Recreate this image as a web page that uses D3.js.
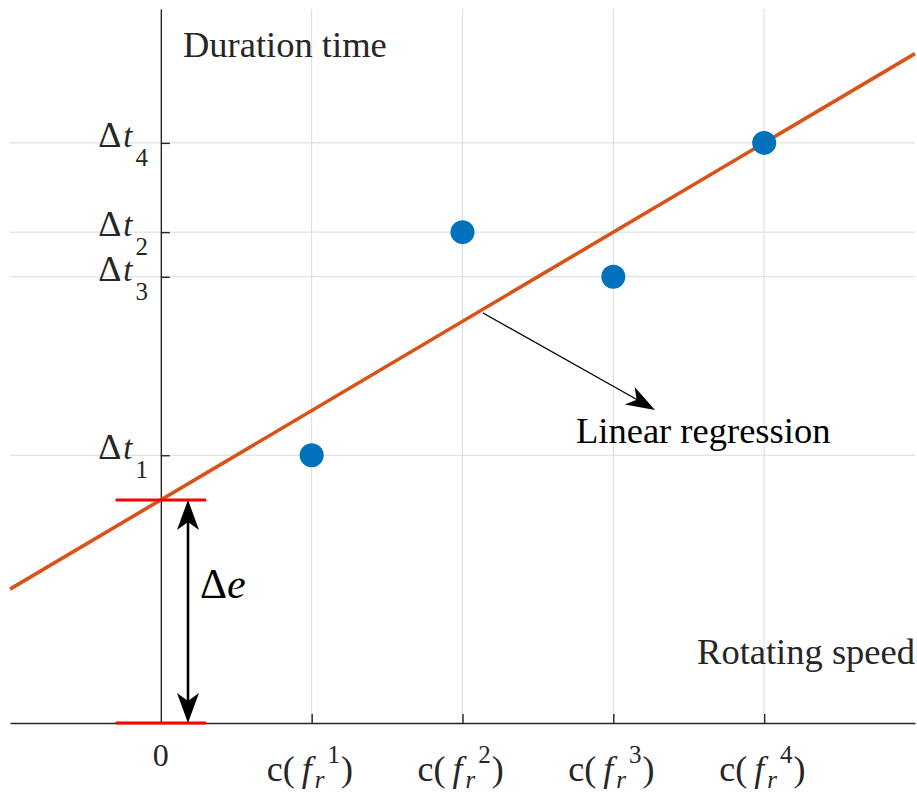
<!DOCTYPE html>
<html><head><meta charset="utf-8">
<script src="https://cdn.jsdelivr.net/npm/d3@7"></script>
<style>html,body{margin:0;padding:0;background:#fff;}svg{display:block;}text{font-family:"Liberation Serif","Times New Roman",serif;}</style>
</head><body>
<svg id="chart" width="917" height="796"></svg>
<script>
// ---- data ----
const speedIndex = [1, 2, 3, 4];              // c(f_r^n) positions
const durationValues = [3, 5.5, 5, 6.5];      // Δt_n
const xTickSup = ["1", "2", "3", "4"];
const yTickSub = ["1", "2", "3", "4"];
const xDomain = [-1, 5];
const yDomain = [0, 8];

(function () {
// least-squares regression of the points
const mx = d3.mean(speedIndex), my = d3.mean(durationValues);
const slope = d3.sum(speedIndex, (v, i) => (v - mx) * (durationValues[i] - my)) /
              d3.sum(speedIndex, v => (v - mx) * (v - mx));
const intercept = my - slope * mx;

const svg = d3.select("#chart");
const x = d3.scaleLinear().domain(xDomain).range([10, 915]);
const y = d3.scaleLinear().domain(yDomain).range([723, 9]);
const ink = "#262626";

// grid
svg.append("g").selectAll("line").data(speedIndex).join("line")
  .attr("x1", d => x(d)).attr("x2", d => x(d)).attr("y1", y(8)).attr("y2", y(0))
  .attr("stroke", "#dbdbdb").attr("stroke-width", 1);
svg.append("g").selectAll("line").data(durationValues).join("line")
  .attr("x1", x(-1)).attr("x2", x(5)).attr("y1", d => y(d)).attr("y2", d => y(d))
  .attr("stroke", "#dbdbdb").attr("stroke-width", 1);

// axes through origin
const xAxis = d3.axisBottom(x).tickValues(speedIndex).tickSize(-9).tickFormat("").tickSizeOuter(0);
const gx = svg.append("g").attr("transform", `translate(0,${y(0)})`).call(xAxis);
const yAxis = d3.axisRight(y).tickValues(durationValues).tickSize(9).tickFormat("").tickSizeOuter(0);
const gy = svg.append("g").attr("transform", `translate(${x(0)},0)`).call(yAxis);
[gx, gy].forEach(g => {
  g.select(".domain").attr("stroke", ink).attr("stroke-width", 1.4);
  g.selectAll(".tick line").attr("stroke", ink).attr("stroke-width", 1.4);
});

// x tick labels
svg.append("text").attr("x", x(0)).attr("y", 766).attr("text-anchor", "middle")
  .attr("font-size", 32).attr("fill", ink).text("0");
speedIndex.forEach((v, i) => {
  const t = svg.append("text").attr("x", x(v) - 45).attr("y", 781)
    .attr("font-size", 36).attr("fill", ink);
  t.append("tspan").text("c(");
  t.append("tspan").attr("dx", 7).attr("font-style", "italic").text("f");
  t.append("tspan").attr("dx", 3).attr("dy", 7).attr("font-size", 25).attr("font-style", "italic").text("r");
  t.append("tspan").attr("dx", 3).attr("dy", -25).attr("font-size", 25).text(xTickSup[i]);
  t.append("tspan").attr("dx", 1).attr("dy", 18).text(")");
});

// y tick labels
durationValues.forEach((v, i) => {
  const t = svg.append("text").attr("x", 148).attr("y", y(v) + 4).attr("text-anchor", "end")
    .attr("font-size", 33).attr("fill", ink);
  t.append("tspan").attr("font-size", 36).text("Δ");
  t.append("tspan").attr("dx", 2).attr("font-style", "italic").text("t");
  t.append("tspan").attr("dx", 3).attr("dy", 19).attr("font-size", 25).text(yTickSub[i]);
});

// axis titles
svg.append("text").attr("x", 183).attr("y", 57).attr("font-size", 36.5).attr("fill", ink).text("Duration time");
svg.append("text").attr("x", 915).attr("y", 664).attr("text-anchor", "end").attr("font-size", 36.5).attr("fill", ink).text("Rotating speed");

// regression line
svg.append("line")
  .attr("x1", x(xDomain[0])).attr("y1", y(intercept + slope * xDomain[0]))
  .attr("x2", x(xDomain[1])).attr("y2", y(intercept + slope * xDomain[1]))
  .attr("stroke", "#D95319").attr("stroke-width", 3.6);

// points
svg.append("g").selectAll("circle").data(speedIndex).join("circle")
  .attr("cx", d => x(d)).attr("cy", (d, i) => y(durationValues[i])).attr("r", 12)
  .attr("fill", "#0072BD");

// intercept markers
const barHalf = 0.3;
[intercept, 0].forEach(v => {
  svg.append("line").attr("x1", x(-barHalf)).attr("x2", x(barHalf)).attr("y1", y(v)).attr("y2", y(v))
    .attr("stroke", "#FF0000").attr("stroke-width", 3);
});

function arrowHead(tip, from, len, half, notch, fill) {
  const dx = tip[0] - from[0], dy = tip[1] - from[1];
  const L = Math.hypot(dx, dy), ux = dx / L, uy = dy / L, nx = -uy, ny = ux;
  const b = [tip[0] - ux * len, tip[1] - uy * len];
  const p = [
    tip,
    [b[0] + nx * half, b[1] + ny * half],
    [tip[0] - ux * (len - notch), tip[1] - uy * (len - notch)],
    [b[0] - nx * half, b[1] - ny * half]
  ];
  svg.append("path").attr("d", d3.line()(p) + "Z").attr("fill", fill);
}

// Δe double arrow
const eX = 0.18;
const pTop = [x(eX), y(intercept)], pBot = [x(eX), y(0)];
svg.append("line").attr("x1", pTop[0]).attr("y1", pTop[1] + 10).attr("x2", pBot[0]).attr("y2", pBot[1] - 10)
  .attr("stroke", "#000").attr("stroke-width", 2.6);
arrowHead(pTop, pBot, 30, 11, 8, "#000");
arrowHead(pBot, pTop, 30, 11, 8, "#000");
const te = svg.append("text").attr("x", 200).attr("y", 598).attr("font-size", 42).attr("fill", "#000");
te.append("tspan").text("Δ");
te.append("tspan").attr("font-style", "italic").text("e");

// annotation arrow
const aStart = [483, 313], aEnd = [655, 410];
svg.append("line").attr("x1", aStart[0]).attr("y1", aStart[1]).attr("x2", aEnd[0] - 12).attr("y2", aEnd[1] - 7)
  .attr("stroke", "#000").attr("stroke-width", 1.3);
arrowHead(aEnd, aStart, 29, 10, 8, "#000");
svg.append("text").attr("x", 576).attr("y", 443).attr("font-size", 36.5).attr("fill", "#000").text("Linear regression");
})();
</script>
</body></html>
